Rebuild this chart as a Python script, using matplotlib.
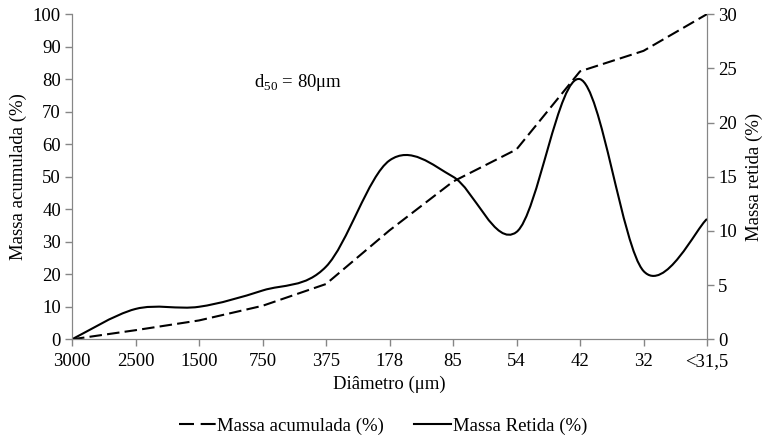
import numpy as np
import matplotlib
matplotlib.use("Agg")
import matplotlib.pyplot as plt
from matplotlib.path import Path
from matplotlib.patches import PathPatch
from matplotlib.lines import Line2D

plt.rcParams['font.family'] = ['Liberation Serif', 'DejaVu Serif']
plt.rcParams['mathtext.fontset'] = 'custom'
plt.rcParams['mathtext.rm'] = 'Liberation Serif'
plt.rcParams['font.size'] = 13.5

diametros = ['3000', '2500', '1500', '750', '375', '178', '85', '54', '42', '32', '<31,5']
massa_acumulada = [0, 2.8, 5.8, 10.3, 17.0, 33.5, 48.5, 58.4, 82.4, 88.7, 100]
massa_retida = [0, 2.8, 3.0, 4.5, 6.7, 16.5, 15.0, 9.9, 24.0, 6.3, 11.1]

cinza = '#868686'

fig = plt.figure(figsize=(7.66, 4.41), dpi=100)
ax = fig.add_axes([0.094, 0.2306, 0.829, 0.7374])
ax2 = ax.twinx()

x = np.arange(len(diametros))

# massa acumulada - linha tracejada
ax.plot(x, massa_acumulada, color='black', lw=1.5, dashes=(6, 2.5))

# massa retida - curva suavizada (bezier tipo excel)
pts = np.column_stack([x, massa_retida]).astype(float)
verts = [tuple(pts[0])]
codes = [Path.MOVETO]
n = len(pts)
for i in range(n - 1):
    p0 = pts[i - 1] if i > 0 else pts[i]
    p1 = pts[i]
    p2 = pts[i + 1]
    p3 = pts[i + 2] if i + 2 < n else pts[i + 1]
    c1 = p1 + (p2 - p0) / 6.0
    c2 = p2 - (p3 - p1) / 6.0
    verts += [tuple(c1), tuple(c2), tuple(p2)]
    codes += [Path.CURVE4] * 3
ax2.add_patch(PathPatch(Path(verts, codes), facecolor='none', edgecolor='black', lw=1.5))

ax.set_xlim(0, len(diametros) - 1)
ax.set_ylim(0, 100)
ax2.set_ylim(0, 30)
ax.set_xticks(x)
ax.set_xticklabels(diametros)
ax.set_yticks(range(0, 101, 10))
ax2.set_yticks(range(0, 31, 5))

for a in (ax, ax2):
    a.spines['top'].set_visible(False)
    for s in ('left', 'right', 'bottom'):
        a.spines[s].set_color(cinza)
    a.tick_params(color=cinza, length=5, width=1, labelcolor='black')
ax.tick_params(axis='y', pad=3)
ax.tick_params(axis='x', pad=5)
ax2.tick_params(axis='y', pad=3)

ax.set_xlabel('Diâmetro (μm)', labelpad=4)
ax.set_ylabel('Massa acumulada (%)', labelpad=4)
ax2.set_ylabel('Massa retida (%)', labelpad=6)

ax.text(2.86, 79, r'd$_{\mathrm{50}}$ = 80μm', ha='left', va='center')

handles = [Line2D([], [], color='black', lw=1.5, dashes=(7.2, 3.2)),
           Line2D([], [], color='black', lw=1.5)]
fig.legend(handles, ['Massa acumulada (%)', 'Massa Retida (%)'], loc='center',
           bbox_to_anchor=(0.5, 0.033), ncol=2, frameon=False, handlelength=1.95,
           handletextpad=0.1, columnspacing=1.6)

fig.savefig('out.png', dpi=100)
